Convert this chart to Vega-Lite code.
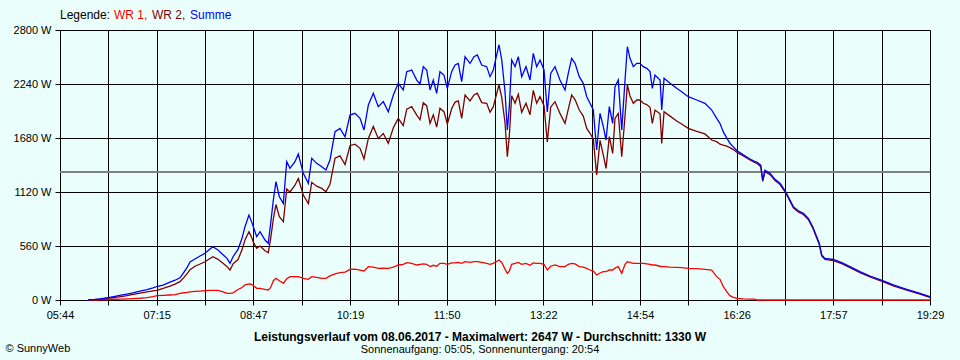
{
  "$schema": "https://vega.github.io/schema/vega-lite/v6.json",
  "width": 870,
  "height": 270,
  "autosize": {"type": "none"},
  "padding": {"left": 60, "top": 30, "right": 30, "bottom": 60},
  "background": "#eafffb",
  "config": {"view": {"stroke": null}, "font": "Liberation Sans"},
  "title": {
    "text": "Leistungsverlauf vom 08.06.2017 - Maximalwert: 2647 W - Durchschnitt: 1330 W",
    "subtitle": "Sonnenaufgang: 05:05, Sonnenuntergang: 20:54",
    "orient": "bottom",
    "anchor": "middle",
    "dx": -15,
    "offset": -21,
    "font": "Liberation Sans",
    "fontSize": 12,
    "fontWeight": "bold",
    "color": "#000000",
    "subtitleFont": "Liberation Sans",
    "subtitleFontSize": 11,
    "subtitleColor": "#000000",
    "subtitlePadding": 0
  },
  "data": {"values": [
    {"t":370.6,"wr1":0,"wr2":0,"sum":0},
    {"t":377.2,"wr1":0,"wr2":4,"sum":6},
    {"t":381.9,"wr1":2,"wr2":8,"sum":12},
    {"t":389.5,"wr1":5,"wr2":18,"sum":24},
    {"t":396.2,"wr1":8,"wr2":28,"sum":38},
    {"t":401.8,"wr1":10,"wr2":36,"sum":50},
    {"t":407.5,"wr1":12,"wr2":45,"sum":62},
    {"t":413.2,"wr1":15,"wr2":58,"sum":75},
    {"t":419.9,"wr1":18,"wr2":72,"sum":92},
    {"t":426.5,"wr1":24,"wr2":84,"sum":108},
    {"t":432.2,"wr1":35,"wr2":95,"sum":125},
    {"t":436.0,"wr1":45,"wr2":100,"sum":140},
    {"t":441.7,"wr1":48,"wr2":120,"sum":155},
    {"t":448.3,"wr1":52,"wr2":145,"sum":185},
    {"t":453.1,"wr1":55,"wr2":165,"sum":205},
    {"t":457.8,"wr1":69,"wr2":190,"sum":230},
    {"t":461.6,"wr1":75,"wr2":235,"sum":290},
    {"t":464.4,"wr1":79,"wr2":270,"sum":335},
    {"t":467.3,"wr1":85,"wr2":315,"sum":395},
    {"t":472.0,"wr1":90,"wr2":350,"sum":425},
    {"t":476.8,"wr1":93,"wr2":373,"sum":456},
    {"t":481.5,"wr1":97,"wr2":397,"sum":484},
    {"t":486.2,"wr1":100,"wr2":430,"sum":530},
    {"t":489.1,"wr1":100,"wr2":449,"sum":553},
    {"t":493.8,"wr1":100,"wr2":422,"sum":518},
    {"t":498.6,"wr1":85,"wr2":380,"sum":470},
    {"t":502.4,"wr1":69,"wr2":346,"sum":432},
    {"t":505.2,"wr1":69,"wr2":311,"sum":380},
    {"t":508.1,"wr1":75,"wr2":375,"sum":449},
    {"t":512.8,"wr1":109,"wr2":420,"sum":525},
    {"t":516.6,"wr1":130,"wr2":520,"sum":640},
    {"t":519.4,"wr1":156,"wr2":622,"sum":760},
    {"t":523.2,"wr1":166,"wr2":708,"sum":881},
    {"t":526.1,"wr1":160,"wr2":640,"sum":800},
    {"t":527.3,"wr1":150,"wr2":600,"sum":760},
    {"t":530.5,"wr1":121,"wr2":536,"sum":657},
    {"t":533.7,"wr1":121,"wr2":560,"sum":708},
    {"t":538.4,"wr1":110,"wr2":510,"sum":622},
    {"t":541.5,"wr1":104,"wr2":490,"sum":588},
    {"t":543.8,"wr1":130,"wr2":640,"sum":795},
    {"t":546.3,"wr1":200,"wr2":840,"sum":1037},
    {"t":548.8,"wr1":225,"wr2":990,"sum":1227},
    {"t":552.0,"wr1":200,"wr2":864,"sum":1071},
    {"t":555.8,"wr1":173,"wr2":812,"sum":1002},
    {"t":559.0,"wr1":220,"wr2":1150,"sum":1434},
    {"t":562.1,"wr1":242,"wr2":1120,"sum":1366},
    {"t":566.8,"wr1":242,"wr2":1190,"sum":1434},
    {"t":570.0,"wr1":242,"wr2":1260,"sum":1514},
    {"t":574.7,"wr1":225,"wr2":1089,"sum":1314},
    {"t":579.5,"wr1":214,"wr2":1000,"sum":1210},
    {"t":582.7,"wr1":242,"wr2":1220,"sum":1469},
    {"t":587.4,"wr1":235,"wr2":1180,"sum":1417},
    {"t":592.2,"wr1":225,"wr2":1157,"sum":1382},
    {"t":596.2,"wr1":225,"wr2":1123,"sum":1348},
    {"t":600.0,"wr1":250,"wr2":1200,"sum":1452},
    {"t":604.8,"wr1":270,"wr2":1470,"sum":1745},
    {"t":609.5,"wr1":283,"wr2":1495,"sum":1780},
    {"t":614.3,"wr1":290,"wr2":1405,"sum":1693},
    {"t":619.0,"wr1":318,"wr2":1600,"sum":1918},
    {"t":623.7,"wr1":320,"wr2":1616,"sum":1936},
    {"t":628.5,"wr1":311,"wr2":1573,"sum":1884},
    {"t":632.3,"wr1":300,"wr2":1463,"sum":1763},
    {"t":636.4,"wr1":346,"wr2":1676,"sum":2022},
    {"t":641.1,"wr1":340,"wr2":1800,"sum":2143},
    {"t":645.8,"wr1":328,"wr2":1676,"sum":2005},
    {"t":650.6,"wr1":330,"wr2":1727,"sum":2057},
    {"t":655.3,"wr1":328,"wr2":1625,"sum":1953},
    {"t":660.1,"wr1":340,"wr2":1786,"sum":2126},
    {"t":664.8,"wr1":363,"wr2":1884,"sum":2247},
    {"t":669.5,"wr1":370,"wr2":1808,"sum":2178},
    {"t":672.8,"wr1":387,"wr2":1980,"sum":2368},
    {"t":677.5,"wr1":380,"wr2":2005,"sum":2385},
    {"t":682.3,"wr1":363,"wr2":1918,"sum":2281},
    {"t":685.4,"wr1":370,"wr2":1870,"sum":2240},
    {"t":688.5,"wr1":375,"wr2":2045,"sum":2420},
    {"t":691.7,"wr1":370,"wr2":2015,"sum":2385},
    {"t":694.9,"wr1":346,"wr2":1832,"sum":2178},
    {"t":698.0,"wr1":360,"wr2":1921,"sum":2281},
    {"t":701.2,"wr1":350,"wr2":1793,"sum":2143},
    {"t":704.3,"wr1":380,"wr2":1988,"sum":2368},
    {"t":708.1,"wr1":380,"wr2":1953,"sum":2333},
    {"t":711.3,"wr1":370,"wr2":1825,"sum":2195},
    {"t":715.4,"wr1":385,"wr2":1983,"sum":2368},
    {"t":718.6,"wr1":385,"wr2":2052,"sum":2437},
    {"t":721.7,"wr1":390,"wr2":2064,"sum":2454},
    {"t":724.9,"wr1":380,"wr2":1884,"sum":2264},
    {"t":728.1,"wr1":397,"wr2":2126,"sum":2523},
    {"t":732.8,"wr1":390,"wr2":2064,"sum":2454},
    {"t":736.6,"wr1":397,"wr2":2126,"sum":2523},
    {"t":739.7,"wr1":397,"wr2":2144,"sum":2541},
    {"t":743.9,"wr1":390,"wr2":2047,"sum":2437},
    {"t":748.6,"wr1":380,"wr2":2040,"sum":2420},
    {"t":751.8,"wr1":370,"wr2":1946,"sum":2316},
    {"t":754.9,"wr1":380,"wr2":2005,"sum":2385},
    {"t":758.1,"wr1":400,"wr2":2141,"sum":2541},
    {"t":760.3,"wr1":415,"wr2":2232,"sum":2647},
    {"t":762.9,"wr1":390,"wr2":2099,"sum":2489},
    {"t":766.0,"wr1":320,"wr2":1840,"sum":2160},
    {"t":768.2,"wr1":277,"wr2":1486,"sum":1763},
    {"t":770.1,"wr1":300,"wr2":1705,"sum":2005},
    {"t":772.3,"wr1":370,"wr2":2119,"sum":2489},
    {"t":775.5,"wr1":380,"wr2":2040,"sum":2420},
    {"t":778.6,"wr1":390,"wr2":2133,"sum":2523},
    {"t":781.8,"wr1":370,"wr2":1946,"sum":2316},
    {"t":785.9,"wr1":380,"wr2":2040,"sum":2420},
    {"t":789.7,"wr1":360,"wr2":1921,"sum":2281},
    {"t":792.8,"wr1":385,"wr2":2173,"sum":2558},
    {"t":796.0,"wr1":380,"wr2":2040,"sum":2420},
    {"t":799.2,"wr1":380,"wr2":2109,"sum":2489},
    {"t":803.0,"wr1":370,"wr2":2015,"sum":2385},
    {"t":806.1,"wr1":311,"wr2":1639,"sum":1950},
    {"t":809.3,"wr1":350,"wr2":2000,"sum":2350},
    {"t":813.4,"wr1":363,"wr2":2057,"sum":2420},
    {"t":818.1,"wr1":346,"wr2":1935,"sum":2281},
    {"t":822.9,"wr1":346,"wr2":1832,"sum":2178},
    {"t":826.0,"wr1":370,"wr2":1980,"sum":2350},
    {"t":829.2,"wr1":380,"wr2":2126,"sum":2506},
    {"t":832.4,"wr1":375,"wr2":2079,"sum":2454},
    {"t":836.4,"wr1":346,"wr2":1970,"sum":2316},
    {"t":840.2,"wr1":340,"wr2":1907,"sum":2247},
    {"t":843.5,"wr1":328,"wr2":1780,"sum":2108},
    {"t":846.6,"wr1":311,"wr2":1729,"sum":2040},
    {"t":849.7,"wr1":300,"wr2":1670,"sum":1970},
    {"t":852.9,"wr1":259,"wr2":1297,"sum":1556},
    {"t":856.1,"wr1":280,"wr2":1656,"sum":1936},
    {"t":859.2,"wr1":294,"wr2":1503,"sum":1797},
    {"t":861.8,"wr1":294,"wr2":1365,"sum":1659},
    {"t":864.9,"wr1":311,"wr2":1694,"sum":2005},
    {"t":868.1,"wr1":311,"wr2":1521,"sum":1832},
    {"t":870.3,"wr1":330,"wr2":1882,"sum":2212},
    {"t":873.4,"wr1":346,"wr2":1935,"sum":2281},
    {"t":876.7,"wr1":277,"wr2":1486,"sum":1763},
    {"t":879.8,"wr1":370,"wr2":1911,"sum":2281},
    {"t":882.0,"wr1":397,"wr2":2230,"sum":2627},
    {"t":884.5,"wr1":390,"wr2":2116,"sum":2506},
    {"t":887.7,"wr1":380,"wr2":2040,"sum":2420},
    {"t":890.9,"wr1":380,"wr2":2074,"sum":2454},
    {"t":894.0,"wr1":380,"wr2":2074,"sum":2454},
    {"t":897.1,"wr1":380,"wr2":2040,"sum":2420},
    {"t":900.4,"wr1":375,"wr2":2027,"sum":2402},
    {"t":903.5,"wr1":370,"wr2":1998,"sum":2368},
    {"t":905.7,"wr1":363,"wr2":1832,"sum":2195},
    {"t":908.2,"wr1":363,"wr2":1970,"sum":2333},
    {"t":913.0,"wr1":350,"wr2":1931,"sum":2281},
    {"t":914.6,"wr1":346,"wr2":1624,"sum":1970},
    {"t":916.8,"wr1":346,"wr2":1953,"sum":2299},
    {"t":922.5,"wr1":340,"wr2":1907,"sum":2247},
    {"t":928.8,"wr1":339,"wr2":1856,"sum":2195},
    {"t":933.5,"wr1":335,"wr2":1825,"sum":2160},
    {"t":939.8,"wr1":328,"wr2":1780,"sum":2108},
    {"t":947.8,"wr1":325,"wr2":1749,"sum":2074},
    {"t":955.6,"wr1":318,"wr2":1722,"sum":2040},
    {"t":962.0,"wr1":311,"wr2":1659,"sum":1970},
    {"t":966.7,"wr1":242,"wr2":1642,"sum":1884},
    {"t":969.9,"wr1":214,"wr2":1616,"sum":1830},
    {"t":973.0,"wr1":138,"wr2":1605,"sum":1743},
    {"t":976.2,"wr1":86,"wr2":1595,"sum":1681},
    {"t":979.3,"wr1":45,"wr2":1580,"sum":1625},
    {"t":982.5,"wr1":28,"wr2":1560,"sum":1588},
    {"t":986.0,"wr1":17,"wr2":1531,"sum":1548},
    {"t":992.0,"wr1":12,"wr2":1493,"sum":1505},
    {"t":998.3,"wr1":10,"wr2":1452,"sum":1462},
    {"t":1003.1,"wr1":10,"wr2":1425,"sum":1435},
    {"t":1004.7,"wr1":0,"wr2":1417,"sum":1430},
    {"t":1008.5,"wr1":0,"wr2":1383,"sum":1398},
    {"t":1010.4,"wr1":0,"wr2":1230,"sum":1244},
    {"t":1012.5,"wr1":0,"wr2":1331,"sum":1345},
    {"t":1017.3,"wr1":0,"wr2":1300,"sum":1314},
    {"t":1022.0,"wr1":0,"wr2":1238,"sum":1251},
    {"t":1026.8,"wr1":0,"wr2":1197,"sum":1210},
    {"t":1032.2,"wr1":0,"wr2":1110,"sum":1123},
    {"t":1036.2,"wr1":0,"wr2":1025,"sum":1037},
    {"t":1039.4,"wr1":0,"wr2":956,"sum":968},
    {"t":1044.1,"wr1":0,"wr2":914,"sum":926},
    {"t":1048.9,"wr1":0,"wr2":887,"sum":899},
    {"t":1053.6,"wr1":0,"wr2":835,"sum":847},
    {"t":1057.8,"wr1":0,"wr2":748,"sum":760},
    {"t":1060.9,"wr1":0,"wr2":662,"sum":674},
    {"t":1064.0,"wr1":0,"wr2":577,"sum":588},
    {"t":1066.3,"wr1":0,"wr2":456,"sum":467},
    {"t":1069.4,"wr1":0,"wr2":421,"sum":432},
    {"t":1077.3,"wr1":0,"wr2":409,"sum":420},
    {"t":1085.3,"wr1":0,"wr2":377,"sum":387},
    {"t":1093.1,"wr1":0,"wr2":336,"sum":346},
    {"t":1102.6,"wr1":0,"wr2":284,"sum":294},
    {"t":1112.1,"wr1":0,"wr2":240,"sum":249},
    {"t":1124.2,"wr1":0,"wr2":191,"sum":200},
    {"t":1134.2,"wr1":0,"wr2":147,"sum":156},
    {"t":1146.9,"wr1":0,"wr2":102,"sum":111},
    {"t":1159.5,"wr1":0,"wr2":61,"sum":69},
    {"t":1167.4,"wr1":0,"wr2":33,"sum":41},
    {"t":1169.0,"wr1":0,"wr2":27,"sum":35}
  ]},
  "layer": [
    {
      "mark": {"type": "rule", "color": "#808080", "strokeWidth": 1},
      "encoding": {"y": {"datum": 1330, "type": "quantitative"}}
    },
    {
      "transform": [{"fold": ["wr1", "wr2", "sum"], "as": ["series", "w"]}],
      "mark": {"type": "line", "strokeWidth": 1.3},
      "encoding": {
        "x": {
          "field": "t", "type": "quantitative",
          "scale": {"domain": [344, 1169], "nice": false, "zero": false},
          "axis": {
            "values": [344,389.833,435.667,481.5,527.333,573.167,619,664.833,710.667,756.5,802.333,848.167,894,939.833,985.667,1031.5,1077.333,1123.167,1169],
            "labelExpr": "['05:44','','07:15','','08:47','','10:19','','11:50','','13:22','','14:54','','16:26','','17:57','','19:29'][round((datum.value-344)/45.8333)]",
            "grid": true, "gridColor": "#000000", "gridOpacity": 1, "gridWidth": 1,
            "domainColor": "#000000", "domainWidth": 1,
            "tickColor": "#000000", "tickSize": 5, "tickWidth": 1,
            "labelFont": "Liberation Sans", "labelFontSize": 11, "labelColor": "#000000",
            "labelPadding": 4, "labelFlush": false, "labelOverlap": false,
            "title": "© SunnyWeb", "titleX": -55, "titleY": 48,
            "titleAlign": "left", "titleBaseline": "middle",
            "titleFont": "Liberation Sans", "titleFontSize": 11, "titleFontWeight": "normal", "titleColor": "#000000"
          }
        },
        "y": {
          "field": "w", "type": "quantitative",
          "scale": {"domain": [0, 2800], "nice": false},
          "axis": {
            "values": [0, 560, 1120, 1680, 2240, 2800],
            "labelExpr": "datum.value + ' W'",
            "grid": true, "gridColor": "#000000", "gridOpacity": 1, "gridWidth": 1,
            "domainColor": "#000000", "domainWidth": 1,
            "tickColor": "#000000", "tickSize": 5, "tickWidth": 1,
            "labelFont": "Liberation Sans", "labelFontSize": 11, "labelColor": "#000000",
            "labelPadding": 4, "title": null
          }
        },
        "color": {
          "field": "series", "type": "nominal",
          "scale": {"domain": ["wr1", "wr2", "sum"], "range": ["#ff0000", "#800000", "#0000ff"]},
          "legend": {
            "orient": "none", "legendX": 0, "legendY": -21,
            "direction": "horizontal",
            "title": "Legende:", "titleOrient": "left",
            "titleFont": "Liberation Sans", "titleFontSize": 12, "titleFontWeight": "normal",
            "titleColor": "#000000", "titlePadding": 3,
            "labelFont": "Liberation Sans", "labelFontSize": 12,
            "labelExpr": "datum.value == 'wr1' ? 'WR 1,' : datum.value == 'wr2' ? 'WR 2,' : 'Summe'",
            "symbolSize": 0, "symbolOpacity": 0, "symbolStrokeWidth": 0,
            "labelOffset": -12, "columnPadding": 4,
            "encode": {"labels": {"update": {"fill": {"signal": "datum.value === 'wr1' ? '#ff0000' : datum.value === 'wr2' ? '#800000' : '#0000ff'"}}}}
          }
        }
      }
    }
  ]
}
